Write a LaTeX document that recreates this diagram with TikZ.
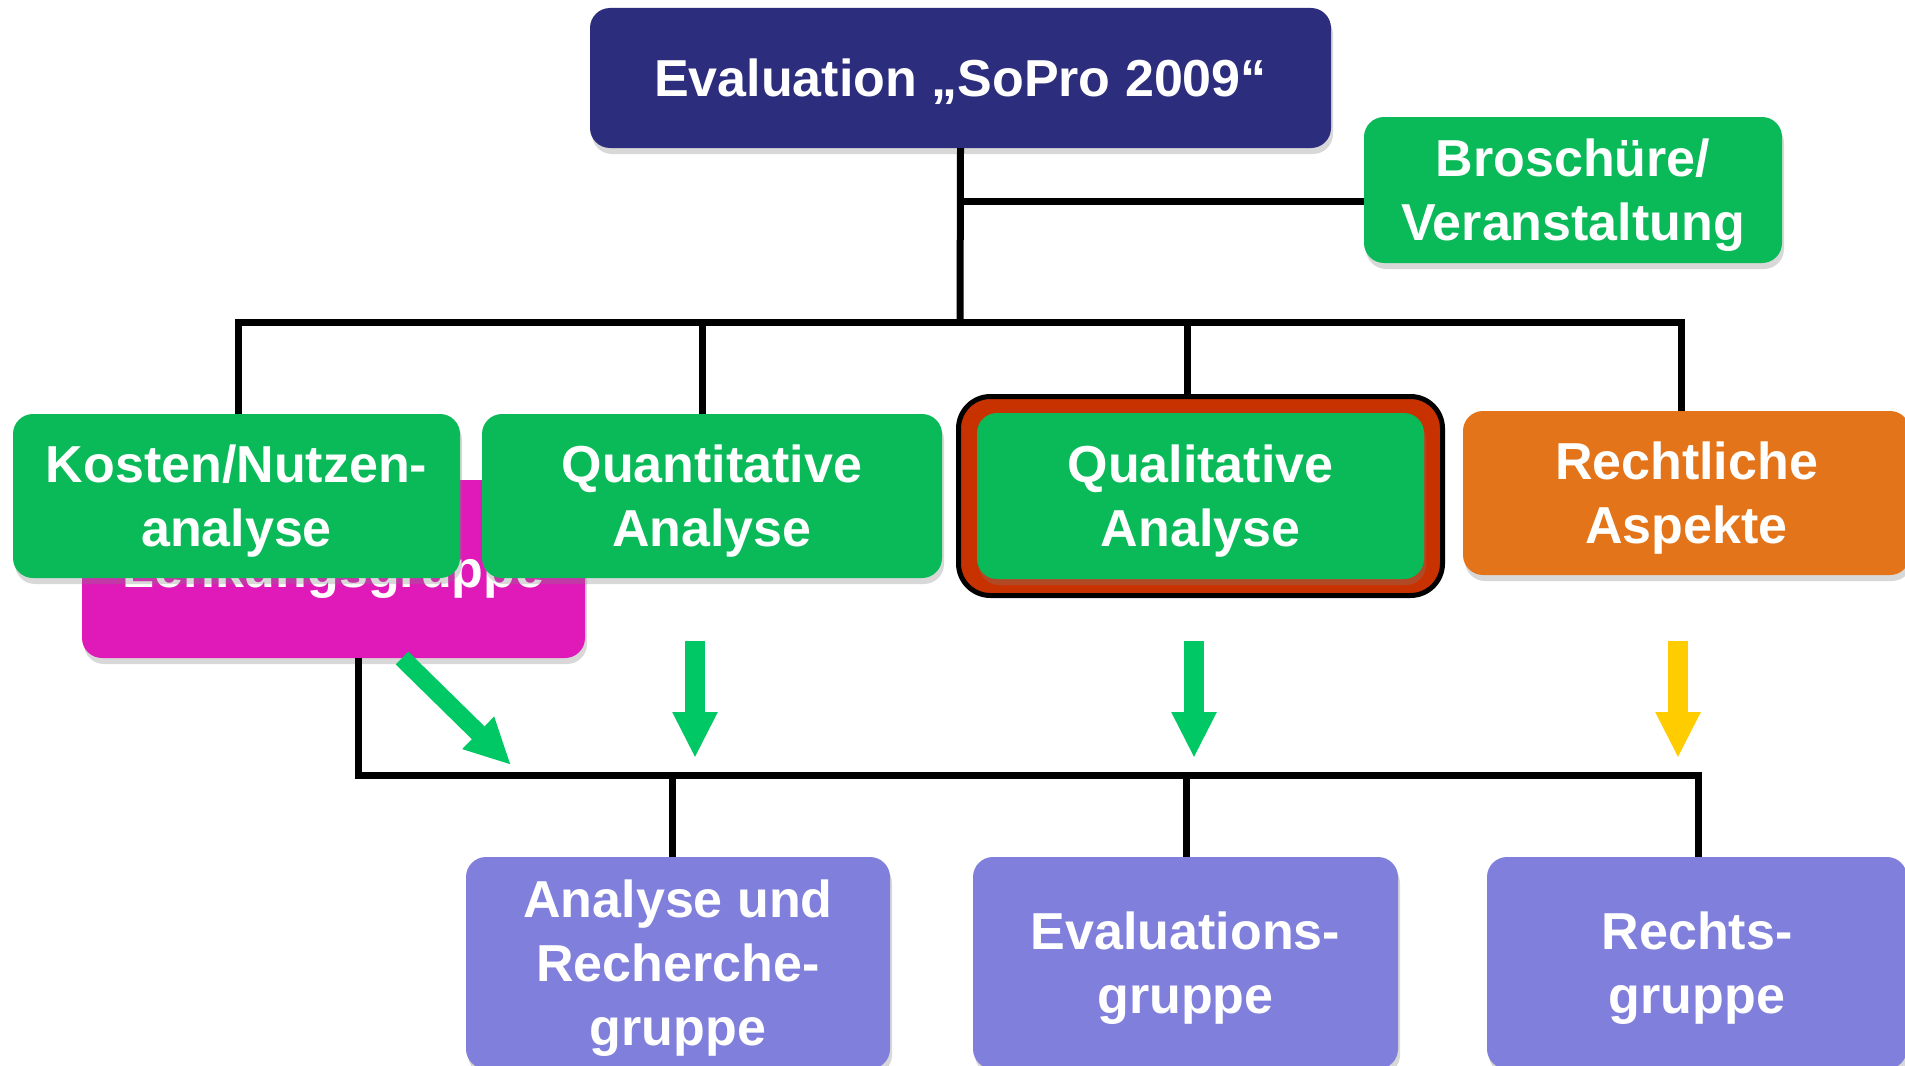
\documentclass[tikz,border=0pt]{standalone}
\usepackage{fontspec}
\setmainfont{Liberation Sans}
\usetikzlibrary{arrows.meta,shadows}
\definecolor{navy}{RGB}{45,45,125}
\definecolor{boxgreen}{RGB}{10,185,88}
\definecolor{boxorange}{RGB}{227,116,25}
\definecolor{lavender}{RGB}{128,128,220}
\definecolor{magentabox}{RGB}{224,26,184}
\definecolor{redframe}{RGB}{200,50,0}
\definecolor{arrowgreen}{RGB}{0,200,100}
\definecolor{arrowyellow}{RGB}{255,204,0}
\tikzset{
  card/.style={rectangle, rounded corners=20pt, inner sep=0pt, align=center,
    text=white, font=\fontsize{52}{64}\selectfont\bfseries, text depth=0pt,
    drop shadow={opacity=0.3, shadow xshift=2pt, shadow yshift=-6pt}},
  conn/.style={line width=7pt, black},
  fatarrow/.style={line width=20pt, -{Triangle[width=42pt,length=46pt]}},
}
\begin{document}
\begin{tikzpicture}[x=1pt,y=-1pt]
\useasboundingbox (0,0) rectangle (1905,1065);
\clip (0,0) rectangle (1905,1065);
\fill[white] (0,0) rectangle (1905,1065);

% coordinates for bus lines
\coordinate (bj) at (960,201);
\coordinate (bus) at (960,322);
\coordinate (d1) at (238,322);
\coordinate (d2) at (702,322);
\coordinate (d3) at (1187,322);
\coordinate (d4) at (1681,322);
\coordinate (l0) at (358,775);
\coordinate (l1) at (672,775);
\coordinate (l2) at (1186,775);
\coordinate (l3) at (1698,775);

% nodes
\node[card, fill=navy, minimum width=741pt, minimum height=140pt] (top) at (960.5,78) {Evaluation „SoPro 2009“};
\node[card, fill=boxgreen, minimum width=418pt, minimum height=146pt] (brosch) at (1573,190) {Broschüre/\\Veranstaltung};
\node[card, fill=magentabox, minimum width=503pt, minimum height=178pt] (lenk) at (333.5,569) {Lenkungsgruppe};
\node[card, fill=boxgreen, minimum width=447pt, minimum height=164pt] (kosten) at (236.5,496) {Kosten/Nutzen-\\analyse};
\node[card, fill=boxgreen, minimum width=460pt, minimum height=164pt] (quant) at (712,496) {Quantitative\\Analyse};
\node[rectangle, rounded corners=32pt, fill=redframe, draw=black, line width=5pt, minimum width=484pt, minimum height=199pt, inner sep=0pt] (qualout) at (1200.5,496) {};
\node[card, fill=boxgreen, minimum width=447pt, minimum height=166pt] (qual) at (1200.5,496) {Qualitative\\Analyse};
\node[card, fill=boxorange, minimum width=447pt, minimum height=164pt] (recht) at (1686.5,493) {Rechtliche\\Aspekte};
\node[card, fill=lavender, minimum width=424pt, minimum height=212pt] (arg) at (678,963) {Analyse und\\Recherche-\\gruppe};
\node[card, fill=lavender, minimum width=425pt, minimum height=212pt] (eval) at (1185.5,963) {Evaluations-\\gruppe};
\node[card, fill=lavender, minimum width=420pt, minimum height=212pt] (rechts) at (1697,963) {Rechts-\\gruppe};

% connectors
\draw[conn] (top.south) -- (bus);
\draw[conn] (bj) -- (bj -| brosch.west);
\draw[conn] (d1 |- kosten.north) -- (d1) -- (d4) -- (d4 |- recht.north);
\draw[conn] (d2) -- (d2 |- quant.north);
\draw[conn] (d3) -- (d3 |- qualout.north);
\draw[conn] (lenk.south -| l0) -- (l0) -- (l3) -- (l3 |- rechts.north);
\draw[conn] (l1) -- (l1 |- arg.north);
\draw[conn] (l2) -- (l2 |- eval.north);

% fat arrows
\coordinate (a0s) at (402,658);
\coordinate (a0e) at (511,765);
\draw[fatarrow, arrowgreen, line width=18pt] (a0s) -- (a0e);
\coordinate (a1s) at (695,641);
\coordinate (a1e) at (695,758);
\draw[fatarrow, arrowgreen] (a1s) -- (a1e);
\coordinate (a2s) at (1194,641);
\coordinate (a2e) at (1194,758);
\draw[fatarrow, arrowgreen] (a2s) -- (a2e);
\coordinate (a3s) at (1678,641);
\coordinate (a3e) at (1678,758);
\draw[fatarrow, arrowyellow] (a3s) -- (a3e);
\end{tikzpicture}
\end{document}
